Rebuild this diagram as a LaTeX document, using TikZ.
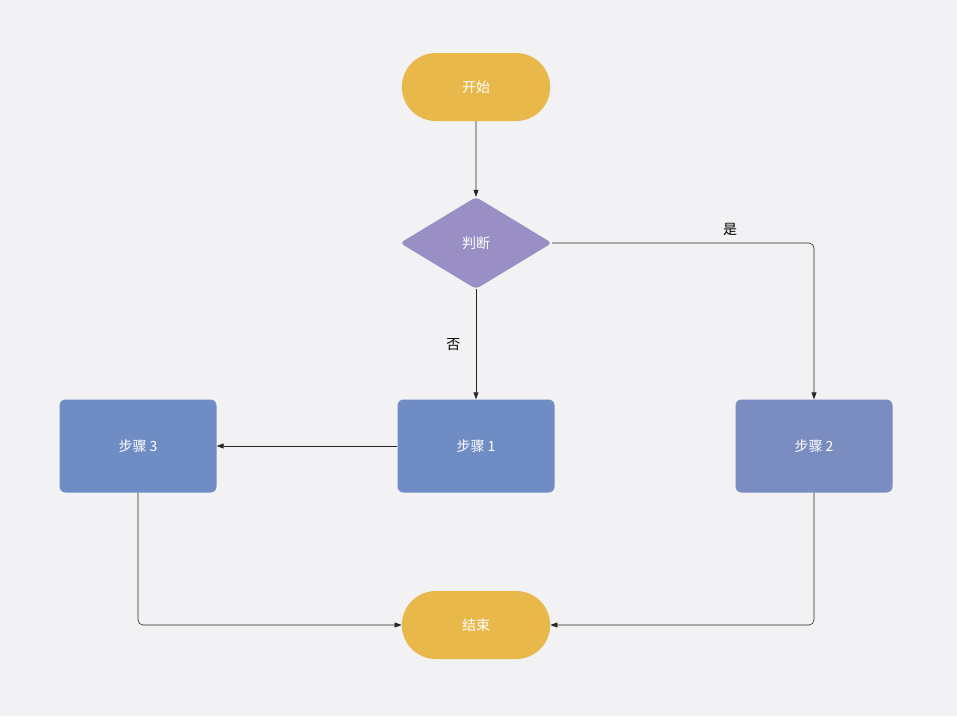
\documentclass[tikz,border=0pt]{standalone}
\usepackage{fontspec}
\setmainfont{Noto Sans CJK SC}
\usetikzlibrary{shapes.geometric,shapes.misc,arrows.meta}
\definecolor{bgc}{HTML}{F2F2F4}
\definecolor{termc}{HTML}{E8B84A}
\definecolor{decc}{HTML}{9A8FC4}
\definecolor{stepc}{HTML}{6F8CC4}
\definecolor{stepb}{HTML}{7A8CC0}
\tikzset{
  term/.style={rounded rectangle, fill=termc, minimum width=155pt, minimum height=68pt, text=white, font=\fontsize{14pt}{16pt}\selectfont},
  stepbox/.style={rectangle, rounded corners=6pt, fill=stepc, minimum width=157pt, minimum height=93pt, text=white, font=\fontsize{14pt}{16pt}\selectfont},
  dec/.style={diamond, aspect=1.67, fill=decc, minimum width=152pt, minimum height=92pt, inner sep=0pt, rounded corners=4pt, text=white, font=\fontsize{14pt}{16pt}\selectfont},
  link/.style={-{Triangle[length=7pt,width=5pt]}, line width=0.6pt, black!85, rounded corners=5pt},
  lbl/.style={font=\fontsize{14pt}{16pt}\selectfont, text=black}
}
\begin{document}
\begin{tikzpicture}[x=1pt,y=-1pt]
  \useasboundingbox[fill=bgc] (0,0) rectangle (957,716);

  \node[term] (start) at (476,87) {开始};
  \node[dec] (judge) at (476,243) {判断};
  \node[stepbox] (stepone) at (476,446) {步骤 1};
  \node[stepbox, fill=stepb] (steptwo) at (814,446) {步骤 2};
  \node[stepbox] (stepthree) at (138,446) {步骤 3};
  \node[term] (stop) at (476,625) {结束};

  \draw[link] (start) -- (judge);
  \draw[link] (judge) -- node[lbl, pos=0.5, left=12pt] {否} (stepone);
  \draw[link] (judge.east) -| node[lbl, pos=0.34, above=4pt] {是} (steptwo.north);
  \draw[link] (stepone) -- (stepthree);
  \draw[link] (stepthree.south) |- (stop.west);
  \draw[link] (steptwo.south) |- (stop.east);
\end{tikzpicture}
\end{document}
